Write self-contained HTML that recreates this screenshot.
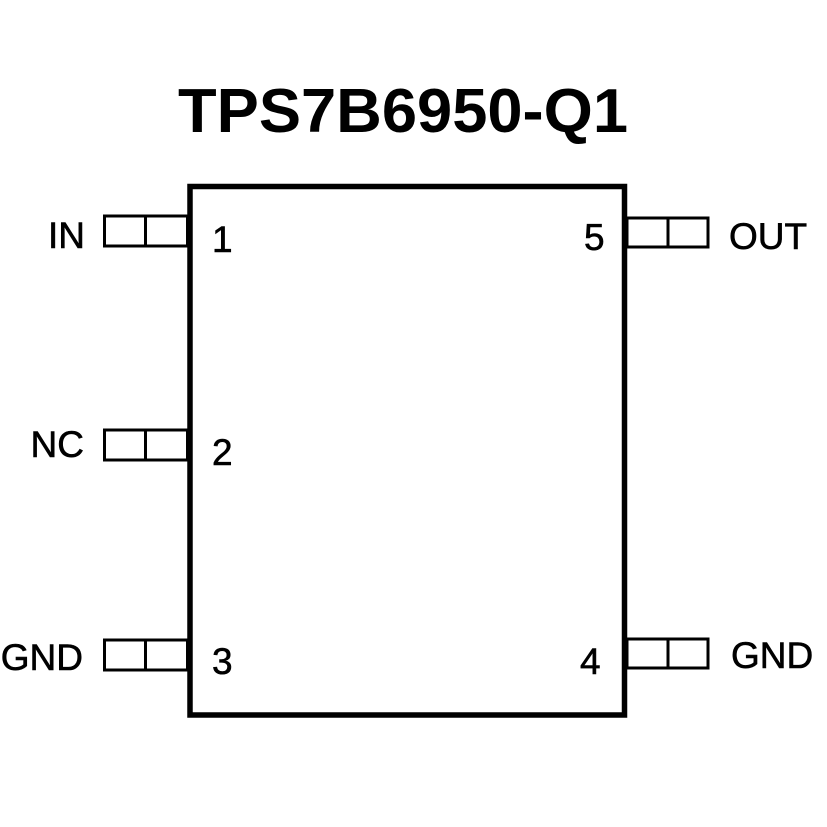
<!DOCTYPE html>
<html><head><meta charset="utf-8"><style>
html,body{margin:0;padding:0;background:#fff;}
svg{display:block;}
text{font-family:"Liberation Sans",Arial,sans-serif;fill:#000;}
</style></head><body>
<svg width="827" height="827" viewBox="0 0 827 827" xmlns="http://www.w3.org/2000/svg">
<text x="403" y="132" font-size="62" font-weight="bold" text-anchor="middle" textLength="450" lengthAdjust="spacingAndGlyphs">TPS7B6950-Q1</text>
<rect x="190" y="186.5" width="434.5" height="528.5" fill="none" stroke="#000" stroke-width="5.5"/>
<g fill="none" stroke="#000" stroke-width="3">
<rect x="104.5" y="216" width="83" height="30"/><line x1="145.5" y1="216" x2="145.5" y2="246"/>
<rect x="104.5" y="430" width="83" height="30"/><line x1="145.5" y1="430" x2="145.5" y2="460"/>
<rect x="104.5" y="640" width="83" height="30"/><line x1="145.5" y1="640" x2="145.5" y2="670"/>
<rect x="627" y="218" width="81" height="29"/><line x1="668" y1="218" x2="668" y2="247"/>
<rect x="627" y="639" width="81" height="29"/><line x1="668" y1="639" x2="668" y2="668"/>
</g>
<g font-size="37" stroke="#000" stroke-width="0.6">
<text x="85" y="248" text-anchor="end">IN</text>
<text x="84" y="457" text-anchor="end">NC</text>
<text x="83" y="670" text-anchor="end">GND</text>
<text x="729" y="249">OUT</text>
<text x="731" y="668">GND</text>
<text x="212" y="252">1</text>
<text x="212" y="465">2</text>
<text x="212" y="674">3</text>
<text x="584" y="250">5</text>
<text x="580" y="674">4</text>
</g>
</svg>
</body></html>
